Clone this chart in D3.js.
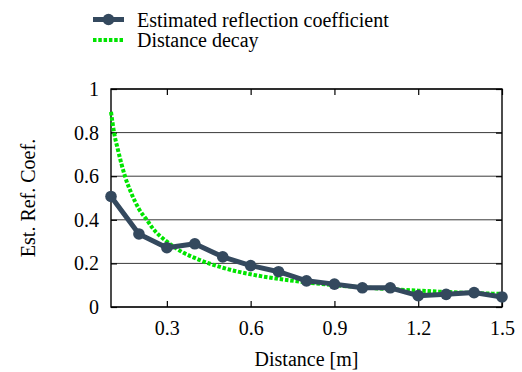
<!DOCTYPE html>
<html>
<head>
<meta charset="utf-8">
<script src="https://cdn.jsdelivr.net/npm/d3@7"></script>
<style>
  html, body { margin: 0; padding: 0; background: #fff; }
  svg text { font-family: "Liberation Serif", "Times New Roman", Times, "DejaVu Serif", serif; fill: #000; }
</style>
</head>
<body>
<svg id="chart" width="522" height="372"></svg>
<script>
// Estimated reflection coefficient, sampled every 0.1 m
const distance = [0.1, 0.2, 0.3, 0.4, 0.5, 0.6, 0.7, 0.8, 0.9, 1.0, 1.1, 1.2, 1.3, 1.4, 1.5];
const estimated = [0.507, 0.335, 0.272, 0.29, 0.23, 0.19, 0.162, 0.12, 0.105, 0.088, 0.088, 0.052, 0.058, 0.066, 0.046];

// Distance decay curve
const decayX = [0.1, 0.111, 0.125, 0.15, 0.175, 0.2, 0.228, 0.25, 0.3, 0.358, 0.4, 0.5, 0.6, 0.7, 0.8, 0.9, 1.0, 1.1, 1.2, 1.3, 1.4, 1.5];
const decayY = [0.895, 0.8, 0.72, 0.6, 0.515, 0.45, 0.4, 0.36, 0.3, 0.25, 0.225, 0.18, 0.15, 0.129, 0.113, 0.1, 0.09, 0.082, 0.075, 0.069, 0.064, 0.06];

const xTicks = [0.3, 0.6, 0.9, 1.2, 1.5];
const yTicks = [0, 0.2, 0.4, 0.6, 0.8, 1];

const seriesNames = ['Estimated reflection coefficient', 'Distance decay'];
const lineColor = '#34495e';
const decayColor = '#00e400';
const gridColor = '#3a3a3a';
const serif = '"Liberation Serif", "Times New Roman", Times, "DejaVu Serif", serif';

const margin = { left: 111, right: 20, top: 89, bottom: 65 };
const width = 522;
const height = 372;
const plotW = width - margin.left - margin.right;
const plotH = height - margin.top - margin.bottom;

const svg = d3.select('#chart').attr('font-family', serif);
const chart = svg.append('g').attr('transform', `translate(${margin.left},${margin.top})`);

const x = d3.scaleLinear().domain([0.1, 1.5]).range([0, plotW]);
const y = d3.scaleLinear().domain([0, 1]).range([plotH, 0]);

// Horizontal grid lines
chart.append('g')
  .selectAll('line')
  .data(yTicks)
  .join('line')
  .attr('x1', 0)
  .attr('x2', plotW)
  .attr('y1', (d) => y(d))
  .attr('y2', (d) => y(d))
  .attr('stroke', gridColor)
  .attr('stroke-width', 1);

// Axes: ticks point inward, labels outside
const fmt = (d) => (d === 0 || d === 1 ? String(d) : d.toFixed(1));

chart.append('g')
  .attr('transform', `translate(0,${plotH})`)
  .call(d3.axisBottom(x).tickValues(xTicks).tickSize(-6).tickPadding(14).tickFormat(fmt));
chart.append('g')
  .call(d3.axisTop(x).tickValues(xTicks).tickSize(-6).tickFormat(''));

chart.append('g')
  .call(d3.axisLeft(y).tickValues(yTicks).tickSize(-6).tickPadding(12).tickFormat(fmt));
chart.append('g')
  .attr('transform', `translate(${plotW},0)`)
  .call(d3.axisRight(y).tickValues(yTicks).tickSize(-6).tickFormat(''));

chart.selectAll('.domain').remove();
chart.selectAll('g').attr('font-family', serif).attr('font-size', 20);
chart.selectAll('.tick line').attr('stroke', '#000').attr('stroke-width', 1.2);
chart.selectAll('.tick text').attr('fill', '#000');

// Frame
chart.append('rect')
  .attr('x', 0).attr('y', 0)
  .attr('width', plotW).attr('height', plotH)
  .attr('fill', 'none')
  .attr('stroke', '#000')
  .attr('stroke-width', 1.4);

// Distance decay curve
const decayData = decayX.map((d, i) => [d, decayY[i]]);
chart.append('path')
  .datum(decayData)
  .attr('fill', 'none')
  .attr('stroke', decayColor)
  .attr('stroke-width', 4)
  .attr('stroke-dasharray', '3.5,1.8')
  .attr('d', d3.line().x((d) => x(d[0])).y((d) => y(d[1])).curve(d3.curveMonotoneX));

// Estimated series
const estData = distance.map((d, i) => [d, estimated[i]]);
chart.append('path')
  .datum(estData)
  .attr('fill', 'none')
  .attr('stroke', lineColor)
  .attr('stroke-width', 5)
  .attr('stroke-linejoin', 'round')
  .attr('d', d3.line().x((d) => x(d[0])).y((d) => y(d[1])));

chart.append('g')
  .selectAll('circle')
  .data(estData)
  .join('circle')
  .attr('cx', (d) => x(d[0]))
  .attr('cy', (d) => y(d[1]))
  .attr('r', 5.8)
  .attr('fill', lineColor);

// Axis titles
svg.append('text')
  .attr('x', margin.left + plotW / 2)
  .attr('y', 366)
  .attr('text-anchor', 'middle')
  .attr('font-size', 20)
  .text('Distance [m]');

svg.append('text')
  .attr('transform', `translate(35,${margin.top + plotH / 2}) rotate(-90)`)
  .attr('text-anchor', 'middle')
  .attr('font-size', 20)
  .text('Est. Ref. Coef.');

// Legend
const legend = svg.append('g');
const legendY = [19.5, 40];
legend.append('line')
  .attr('x1', 93).attr('x2', 124)
  .attr('y1', legendY[0]).attr('y2', legendY[0])
  .attr('stroke', lineColor).attr('stroke-width', 5);
legend.append('circle')
  .attr('cx', 108.5).attr('cy', legendY[0]).attr('r', 5.8)
  .attr('fill', lineColor);
legend.append('line')
  .attr('x1', 93).attr('x2', 124)
  .attr('y1', legendY[1]).attr('y2', legendY[1])
  .attr('stroke', decayColor).attr('stroke-width', 4)
  .attr('stroke-dasharray', '3.5,1.8');
legend.selectAll('text.lbl')
  .data(seriesNames)
  .join('text')
  .attr('class', 'lbl')
  .attr('x', 137)
  .attr('y', (d, i) => legendY[i] + 7)
  .attr('font-size', 20)
  .text((d) => d);
</script>
</body>
</html>
